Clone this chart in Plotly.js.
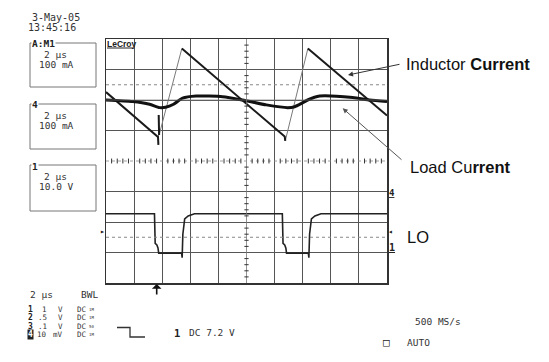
<!DOCTYPE html>
<html><head><meta charset="utf-8">
<script src="https://cdn.plot.ly/plotly-3.0.1.min.js"></script>
<style>html,body{margin:0;padding:0;background:#fff;}#chart{width:549px;height:362px;}</style>
</head><body><div id="chart"></div>
<script>
// Time in µs (2 µs/div, 10 div); levels in screen divisions (0 = bottom, 8 = top)
const inductorTime  = [0, 3.70, 3.73, 3.75, 3.78, 5.40, 12.72, 12.76, 14.37, 20];
const inductorLevel = [6.26, 4.79, 4.53, 5.51, 4.85, 7.69, 4.80, 4.66, 7.69, 5.49];

const loadTime  = [0, 1.89, 3.10, 3.81, 4.24, 4.81, 5.45, 6.42, 8.30, 9.72, 11.41, 12.93, 13.43, 13.92, 14.35, 15.21, 17.56, 18.77, 20];
const loadLevel = [6.00, 5.95, 5.86, 5.75, 5.76, 5.86, 6.06, 6.13, 6.11, 6.00, 5.84, 5.75, 5.78, 5.89, 6.00, 6.13, 6.08, 6.00, 5.95];

const loTime  = [0, 3.45, 3.50, 3.62, 3.70, 3.75, 5.38, 5.42, 5.47, 5.60, 5.85, 6.30, 12.55, 12.60, 12.72, 12.80, 12.85, 14.40, 14.44, 14.49, 14.62, 14.87, 15.30, 20];
const loLevel = [2.27, 2.27, 1.30, 1.25, 1.15, 0.98, 0.98, 0.83, 1.60, 2.10, 2.20, 2.27, 2.27, 1.30, 1.25, 1.15, 0.98, 0.98, 0.83, 1.60, 2.10, 2.20, 2.27, 2.27];

const gridX = [2, 4, 6, 8, 12, 14, 16, 18];
const gridY = [1, 2, 3, 5, 6, 7];

const chNum = ['1', '2', '3', '4'];
const chScale = ['1', '.5', '.1', '10'];
const chUnit = ['V', 'V', 'V', 'mV'];
const chCoupling = ['DC', 'DC', 'DC', 'DC'];
const chImped = ['1M', '1M', '50', '1M'];

const boxLabels = ['<b>A:M1</b>', '<b>4</b>', '<b>1</b>'];
const boxLine1 = ['2 µs', '2 µs', '2 µs'];
const boxLine2 = ['100 mA', '100 mA', '10.0 V'];

// split inductor trace into falling (dark) and rising (faint) parts
const fallX = [], fallY = [], riseX = [], riseY = [];
let prev = null;
for (let i = 0; i < inductorTime.length - 1; i++) {
  const rising = inductorLevel[i + 1] > inductorLevel[i];
  const X = rising ? riseX : fallX, Y = rising ? riseY : fallY;
  if (prev !== rising) {
    if (X.length) { X.push(null); Y.push(null); }
    X.push(inductorTime[i]); Y.push(inductorLevel[i]);
  }
  X.push(inductorTime[i + 1]); Y.push(inductorLevel[i + 1]);
  prev = rising;
}

const L = 106, T = 39, W = 281, H = 244;
const px = x => (x - L) / W;
const py = y => (T + H - y) / H;

const MONO = 'DejaVu Sans Mono';
const SANS = 'Liberation Sans, Arial, sans-serif';
const TXT = '#333';

const traces = [
  {x: loTime, y: loLevel, mode: 'lines', line: {color: '#222', width: 1.6}, hoverinfo: 'skip'},
  {x: riseX, y: riseY, mode: 'lines', line: {color: '#7a7a7a', width: 1}, hoverinfo: 'skip'},
  {x: fallX, y: fallY, mode: 'lines', line: {color: '#1a1a1a', width: 2}, hoverinfo: 'skip'},
  {x: loadTime, y: loadLevel, mode: 'lines', line: {color: '#111', width: 3, shape: 'spline', smoothing: 0.6}, hoverinfo: 'skip'}
];

const shapes = [];
// center lines
shapes.push({type: 'line', xref: 'x', yref: 'y', x0: 10, x1: 10, y0: 0, y1: 8, line: {color: '#777', width: 0.8}});
shapes.push({type: 'line', xref: 'x', yref: 'y', x0: 0, x1: 20, y0: 4, y1: 4, line: {color: '#888', width: 0.8, dash: 'dot'}});
for (let k = 1; k < 50; k++) {
  if (k % 5 === 0) continue;
  shapes.push({type: 'line', xref: 'x', yref: 'y', x0: k * 0.4, x1: k * 0.4, y0: 3.92, y1: 4.08, line: {color: '#333', width: 1}});
}
for (let k = 1; k < 40; k++) {
  if (k % 5 === 0) continue;
  shapes.push({type: 'line', xref: 'x', yref: 'y', x0: 9.85, x1: 10.15, y0: k * 0.2, y1: k * 0.2, line: {color: '#333', width: 1}});
}
// reference dotted lines
[6.5, 1.5].forEach(v => shapes.push({type: 'line', xref: 'x', yref: 'y', x0: 0, x1: 20, y0: v, y1: v, line: {color: '#888', width: 1, dash: 'dot'}}));
shapes.push({type: 'line', xref: 'x', yref: 'y', x0: 0, x1: 20, y0: 6.0, y1: 6.0, line: {color: '#777', width: 0.7}});
// channel boxes
const boxTops = [43, 104, 165], boxBots = [87, 149, 211];
boxTops.forEach((t, i) => shapes.push({type: 'rect', xref: 'paper', yref: 'paper', x0: px(30), x1: px(96), y0: py(boxBots[i]), y1: py(t), line: {color: '#777', width: 1}}));
// trigger slope symbol
shapes.push({type: 'path', xref: 'paper', yref: 'paper',
  path: `M ${px(117)} ${py(327.5)} L ${px(130)} ${py(327.5)} L ${px(130)} ${py(337)} L ${px(145)} ${py(337)}`,
  line: {color: '#333', width: 1.3}});
// LeCroy underline
shapes.push({type: 'line', xref: 'paper', yref: 'paper', x0: px(107), x1: px(133), y0: py(48), y1: py(48), line: {color: '#222', width: 1}});

const ann = [];
const txt = (t, x, y, opt = {}) => ann.push(Object.assign({
  text: t, xref: 'paper', yref: 'paper', x: px(x), y: py(y), xanchor: 'left', yanchor: 'middle',
  showarrow: false, font: {family: MONO, size: 9.5, color: TXT}, borderpad: 0
}, opt));

txt('3-May-05', 31, 17, {font: {family: MONO, size: 10, color: TXT}});
txt('13:45:16', 27, 28, {font: {family: MONO, size: 10, color: TXT}});
boxTops.forEach((t, i) => {
  txt(boxLabels[i], 31, t + 1, {bgcolor: '#fff', font: {family: MONO, size: 9.5, color: '#222'}});
  txt(boxLine1[i], 43, t + 11);
  txt(boxLine2[i], 38, t + 21.5);
});
txt('<b>LeCroy</b>', 106, 43.5, {font: {family: SANS, size: 8.5, color: '#222'}});

// bottom status area
txt('2 µs', 29, 294);
txt('BWL', 80, 294);
const rowY = [309, 317.5, 326, 334.5];
const small = {family: MONO, size: 7.5, color: TXT};
chNum.forEach((n, i) => {
  const last = i === 3;
  txt('<b>' + n + '</b>', 27, rowY[i], {font: {family: MONO, size: 8, color: last ? '#fff' : '#222'}, bgcolor: last ? '#222' : 'rgba(0,0,0,0)'});
  txt(chScale[i], 48, rowY[i], {xanchor: 'right', font: small});
  txt(chUnit[i], 64, rowY[i], {xanchor: 'right', font: small});
  txt(chCoupling[i], 76, rowY[i], {font: small});
  txt(chImped[i], 88, rowY[i], {font: {family: MONO, size: 4, color: TXT}});
});
txt('<b>1</b>', 173, 332.7, {font: {family: MONO, size: 10.5, color: '#222'}});
txt('DC 7.2 V', 188, 332.7);
txt('500 MS/s', 414, 321.7);
txt('□', 382, 342.3, {font: {family: MONO, size: 11, color: '#222'}});
txt('AUTO', 405.5, 342.3);

// side markers
txt('<b><span style="text-decoration:underline">4</span></b>', 387.5, 193, {font: {family: MONO, size: 9, color: '#222'}});
txt('◂', 386.5, 232, {font: {family: MONO, size: 8, color: '#222'}});
txt('<b><span style="text-decoration:underline">1</span></b>', 387.5, 247, {font: {family: MONO, size: 10, color: '#222'}});
txt('▸', 98.5, 232, {font: {family: MONO, size: 8, color: '#222'}});

// callouts
txt('Inductor <b>Current</b>', 405, 63.7, {font: {family: SANS, size: 16.5, color: '#111'}});
txt('Load Cu<b>rrent</b>', 409, 166.8, {font: {family: SANS, size: 16.5, color: '#111'}});
txt('LO', 405.5, 237.3, {font: {family: SANS, size: 16.5, color: '#111'}});

const arrow = (hx, hy, tx, ty, opt = {}) => ann.push(Object.assign({
  text: '', xref: 'paper', yref: 'paper', x: px(hx), y: py(hy), ax: tx - hx, ay: ty - hy,
  showarrow: true, arrowhead: 2, arrowsize: 1, arrowwidth: 1, arrowcolor: '#333', standoff: 0
}, opt));
arrow(348, 75, 401, 64);
arrow(342.7, 108.3, 403, 161, {arrowcolor: '#555'});
arrow(156.7, 284, 156.7, 296, {arrowwidth: 1.6, arrowcolor: '#111', arrowhead: 1});

const layout = {
  width: 549, height: 362,
  margin: {l: L, r: 549 - L - W, t: T, b: 362 - T - H, pad: 0},
  paper_bgcolor: '#fff', plot_bgcolor: '#fff',
  showlegend: false,
  xaxis: {range: [0, 20], tickvals: gridX, showticklabels: false, ticks: '', showgrid: true,
          gridcolor: '#555', gridwidth: 1, zeroline: false, showline: true, mirror: true,
          linecolor: '#333', linewidth: 1.5, fixedrange: true},
  yaxis: {range: [0, 8], tickvals: gridY, showticklabels: false, ticks: '', showgrid: true,
          gridcolor: '#555', gridwidth: 1, zeroline: false, showline: true, mirror: true,
          linecolor: '#333', linewidth: 1.5, fixedrange: true},
  shapes: shapes,
  annotations: ann
};

Plotly.newPlot('chart', traces, layout, {staticPlot: true, displayModeBar: false});
</script>
</body></html>
